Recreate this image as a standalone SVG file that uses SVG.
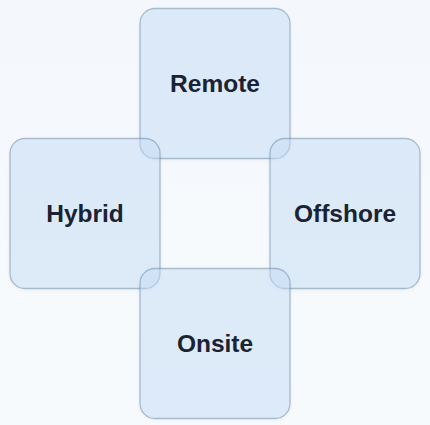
<svg xmlns="http://www.w3.org/2000/svg" width="430" height="425" viewBox="0 0 430 425">
<defs>
<linearGradient id="bg" x1="0" y1="0" x2="0" y2="1">
<stop offset="0" stop-color="#f4f8fc"/>
<stop offset="1" stop-color="#f7fafd"/>
</linearGradient>
<filter id="sh" x="-10%" y="-10%" width="120%" height="120%">
<feDropShadow dx="0" dy="1" stdDeviation="1.5" flood-color="#3a5a80" flood-opacity="0.12"/>
</filter>
</defs>
<style>
.box{fill:#c8e0fb;fill-opacity:0.45;stroke:#5a7d96;stroke-opacity:0.45;stroke-width:1.3;filter:url(#sh)}
.lbl{font-family:"Liberation Sans",Arial,sans-serif;font-size:24.5px;font-weight:bold;fill:#1a2233;text-anchor:middle}
</style>
<rect width="430" height="425" fill="url(#bg)"/>
<g id="connectors"></g>
<g id="remote"><rect class="box" x="140" y="8.5" width="150" height="150" rx="15"/><text class="lbl" x="215" y="92">Remote</text></g>
<g id="hybrid"><rect class="box" x="10" y="138.5" width="150" height="150" rx="15"/><text class="lbl" x="85" y="222">Hybrid</text></g>
<g id="offshore"><rect class="box" x="270" y="138.5" width="150" height="150" rx="15"/><text class="lbl" x="345" y="222">Offshore</text></g>
<g id="onsite"><rect class="box" x="140" y="268.5" width="150" height="150" rx="15"/><text class="lbl" x="215" y="352">Onsite</text></g>
</svg>
